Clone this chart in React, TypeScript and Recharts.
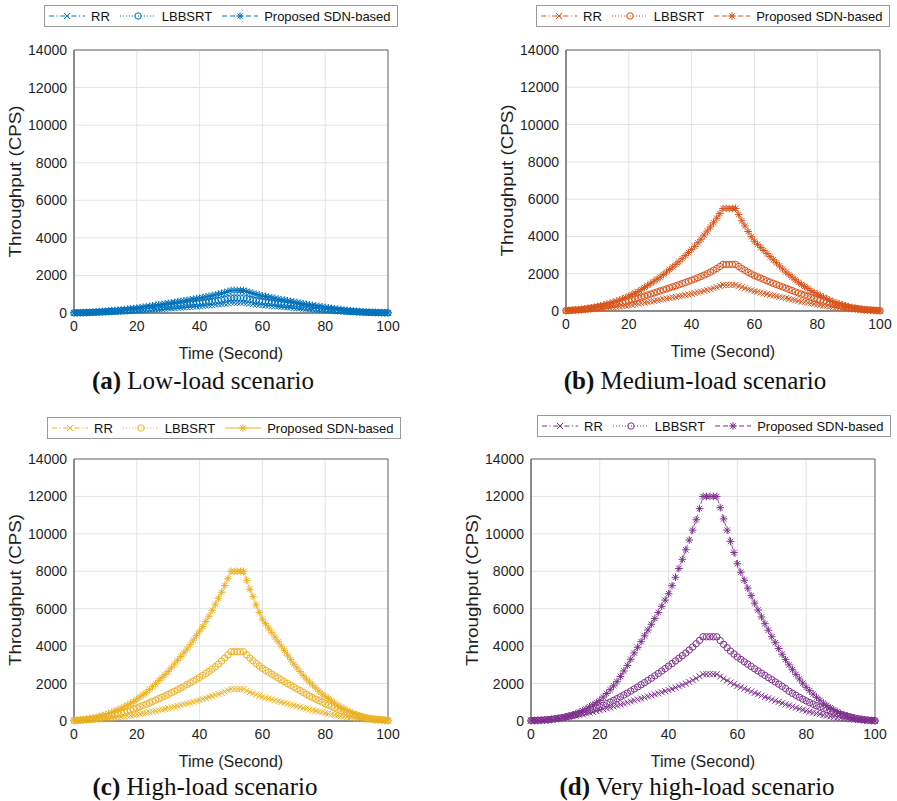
import React from 'react';
import { LineChart, Line, XAxis, YAxis, CartesianGrid, ReferenceArea, Label } from 'recharts';

// ---------- data ----------
const timeSec = [
  0, 1, 2, 3, 4, 5, 6, 7, 8, 9, 10, 11, 12, 13, 14, 15, 16, 17, 18, 19, 20,
  21, 22, 23, 24, 25, 26, 27, 28, 29, 30, 31, 32, 33, 34, 35, 36, 37, 38, 39, 40,
  41, 42, 43, 44, 45, 46, 47, 48, 49, 50, 51, 52, 53, 54, 55, 56, 57, 58, 59, 60,
  61, 62, 63, 64, 65, 66, 67, 68, 69, 70, 71, 72, 73, 74, 75, 76, 77, 78, 79, 80,
  81, 82, 83, 84, 85, 86, 87, 88, 89, 90, 91, 92, 93, 94, 95, 96, 97, 98, 99, 100,
];

const xTicks = [0, 20, 40, 60, 80, 100];
const yTicks = [0, 2000, 4000, 6000, 8000, 10000, 12000, 14000];
const seriesNames = ['RR', 'LBBSRT', 'Proposed SDN-based'];

// (a) Low-load
const lowRR = [
  6, 7, 9, 12, 14, 17, 21, 27, 33, 39,
  44, 50, 57, 63, 70, 77, 85, 94, 102, 112,
  121, 132, 143, 154, 165, 176, 188, 200, 212, 224,
  237, 249, 261, 273, 285, 297, 310, 323, 336, 349,
  363, 377, 392, 408, 424, 440, 460, 480, 502, 525,
  550, 550, 550, 550, 550,
  525, 501, 479, 457, 437, 418, 403, 387, 372, 356,
  341, 327, 312, 298, 284, 270, 255, 241, 227, 212,
  198, 186, 174, 162, 150, 138, 127, 116, 105, 94,
  83, 74, 66, 58, 50, 41, 36, 31, 26, 21,
  17, 14, 12, 10, 8, 6,
];
const lowLBB = [
  8, 10, 14, 17, 20, 24, 31, 39, 48, 56,
  64, 73, 82, 92, 102, 112, 124, 136, 149, 162,
  176, 192, 208, 224, 240, 256, 274, 291, 309, 326,
  344, 362, 379, 397, 414, 432, 450, 470, 489, 508,
  528, 549, 570, 593, 616, 640, 669, 698, 730, 764,
  800, 800, 800, 800, 800,
  764, 728, 696, 664, 636, 608, 586, 563, 541, 518,
  496, 475, 454, 434, 413, 392, 371, 350, 330, 309,
  288, 270, 253, 235, 218, 200, 184, 168, 152, 136,
  120, 108, 96, 84, 72, 60, 53, 46, 38, 31,
  24, 21, 18, 14, 11, 8,
];
const lowSDN = [
  12, 16, 20, 25, 30, 36, 47, 59, 72, 84,
  96, 109, 124, 138, 152, 168, 186, 204, 223, 244,
  264, 288, 312, 336, 360, 384, 410, 437, 463, 490,
  516, 542, 569, 595, 622, 648, 676, 704, 733, 762,
  792, 823, 856, 889, 924, 960, 1003, 1048, 1094, 1146,
  1200, 1200, 1200, 1200, 1200,
  1146, 1092, 1044, 996, 954, 912, 878, 845, 811, 778,
  744, 713, 682, 650, 619, 588, 557, 526, 494, 463,
  432, 406, 379, 353, 326, 300, 276, 252, 228, 204,
  180, 162, 144, 126, 108, 90, 79, 68, 58, 47,
  36, 31, 26, 22, 17, 12,
];

// (b) Medium-load
const medRR = [
  14, 18, 24, 29, 35, 42, 55, 69, 84, 98,
  112, 127, 144, 161, 178, 196, 217, 238, 260, 284,
  308, 336, 364, 392, 420, 448, 479, 510, 540, 571,
  602, 633, 664, 694, 725, 756, 788, 822, 855, 889,
  924, 960, 998, 1037, 1078, 1120, 1170, 1222, 1277, 1337,
  1400, 1400, 1400, 1400, 1400,
  1337, 1274, 1218, 1162, 1113, 1064, 1025, 986, 946, 907,
  868, 832, 795, 759, 722, 686, 650, 613, 577, 540,
  504, 473, 442, 412, 381, 350, 322, 294, 266, 238,
  210, 189, 168, 147, 126, 105, 92, 80, 67, 55,
  42, 36, 31, 25, 20, 14,
];
const medLBB = [
  25, 33, 43, 53, 63, 75, 98, 123, 150, 175,
  200, 228, 258, 288, 318, 350, 388, 425, 465, 508,
  550, 600, 650, 700, 750, 800, 855, 910, 965, 1020,
  1075, 1130, 1185, 1240, 1295, 1350, 1408, 1468, 1528, 1588,
  1650, 1715, 1783, 1853, 1925, 2000, 2090, 2183, 2280, 2388,
  2500, 2500, 2500, 2500, 2500,
  2388, 2275, 2175, 2075, 1988, 1900, 1830, 1760, 1690, 1620,
  1550, 1485, 1420, 1355, 1290, 1225, 1160, 1095, 1030, 965,
  900, 845, 790, 735, 680, 625, 575, 525, 475, 425,
  375, 338, 300, 263, 225, 188, 165, 143, 120, 98,
  75, 65, 55, 45, 35, 25,
];
const medSDN = [
  11, 22, 39, 55, 72, 94, 116, 143, 171, 204,
  237, 275, 319, 363, 413, 468, 523, 583, 649, 715,
  798, 880, 963, 1045, 1155, 1265, 1375, 1485, 1595, 1705,
  1815, 1953, 2090, 2228, 2365, 2503, 2640, 2805, 2970, 3135,
  3300, 3465, 3658, 3850, 4070, 4290, 4510, 4730, 4978, 5225,
  5500, 5500, 5500, 5500, 5500,
  5170, 4840, 4565, 4263, 3988, 3740, 3575, 3410, 3245, 3080,
  2915, 2750, 2585, 2420, 2255, 2090, 1953, 1815, 1678, 1540,
  1430, 1320, 1210, 1100, 990, 908, 825, 743, 660, 578,
  506, 440, 385, 330, 275, 231, 193, 154, 121, 94,
  72, 50, 33, 22, 11, 6,
];

// (c) High-load
const highRR = [
  17, 20, 25, 31, 38, 46, 57, 70, 85, 101,
  118, 136, 155, 175, 196, 218, 241, 266, 292, 319,
  347, 376, 406, 437, 469, 502, 536, 571, 607, 644,
  682, 721, 761, 802, 844, 887, 931, 976, 1022, 1069,
  1117, 1167, 1219, 1273, 1329, 1387, 1445, 1505, 1570, 1635,
  1700, 1700, 1700, 1700, 1700,
  1624, 1547, 1479, 1411, 1352, 1292, 1244, 1197, 1149, 1102,
  1054, 1010, 966, 921, 877, 833, 789, 745, 700, 656,
  612, 575, 537, 500, 462, 425, 391, 357, 323, 289,
  255, 230, 204, 179, 153, 128, 112, 97, 82, 66,
  51, 44, 37, 31, 24, 17,
];
const highLBB = [
  37, 42, 50, 60, 72, 86, 106, 130, 160, 193,
  230, 265, 303, 343, 380, 420, 470, 525, 580, 640,
  700, 765, 830, 898, 968, 1040, 1115, 1190, 1265, 1342,
  1420, 1502, 1586, 1672, 1760, 1850, 1943, 2038, 2135, 2232,
  2330, 2435, 2542, 2655, 2775, 2900, 3045, 3200, 3365, 3530,
  3700, 3700, 3700, 3700, 3700,
  3534, 3367, 3219, 3071, 2942, 2812, 2708, 2605, 2501, 2398,
  2294, 2198, 2102, 2005, 1909, 1813, 1717, 1621, 1524, 1428,
  1332, 1251, 1169, 1088, 1006, 925, 851, 777, 703, 629,
  555, 500, 444, 389, 333, 278, 244, 211, 178, 144,
  111, 96, 81, 67, 52, 37,
];
const highSDN = [
  16, 32, 56, 80, 104, 136, 168, 208, 248, 296,
  344, 400, 464, 528, 600, 680, 760, 848, 944, 1040,
  1160, 1280, 1400, 1520, 1680, 1840, 2000, 2160, 2320, 2480,
  2640, 2840, 3040, 3240, 3440, 3640, 3840, 4080, 4320, 4560,
  4800, 5040, 5320, 5600, 5920, 6240, 6560, 6880, 7240, 7600,
  8000, 8000, 8000, 8000, 8000,
  7520, 7040, 6640, 6200, 5800, 5440, 5200, 4960, 4720, 4480,
  4240, 4000, 3760, 3520, 3280, 3040, 2840, 2640, 2440, 2240,
  2080, 1920, 1760, 1600, 1440, 1320, 1200, 1080, 960, 840,
  736, 640, 560, 480, 400, 336, 280, 224, 176, 136,
  104, 72, 48, 32, 16, 8,
];

// (d) Very high-load
const veryRR = [
  25, 30, 38, 48, 60, 75, 95, 118, 142, 168,
  195, 225, 258, 292, 328, 365, 405, 447, 490, 535,
  580, 628, 676, 725, 775, 825, 878, 932, 987, 1042,
  1097, 1150, 1203, 1256, 1310, 1365, 1420, 1476, 1533, 1591,
  1650, 1715, 1783, 1853, 1925, 2000, 2090, 2183, 2280, 2388,
  2500, 2500, 2500, 2500, 2500,
  2380, 2265, 2160, 2060, 1965, 1875, 1800, 1725, 1650, 1575,
  1500, 1430, 1360, 1290, 1220, 1150, 1085, 1020, 955, 890,
  830, 770, 712, 655, 600, 548, 500, 452, 406, 362,
  320, 282, 246, 212, 180, 150, 124, 100, 80, 62,
  46, 34, 24, 16, 10, 5,
];
const veryLBB = [
  30, 35, 42, 50, 60, 75, 95, 120, 150, 180,
  215, 255, 295, 340, 390, 440, 495, 555, 620, 690,
  760, 840, 925, 1010, 1100, 1190, 1290, 1390, 1490, 1600,
  1710, 1820, 1935, 2050, 2170, 2290, 2415, 2540, 2670, 2800,
  2935, 3070, 3210, 3350, 3490, 3630, 3790, 3955, 4130, 4310,
  4500, 4500, 4500, 4500, 4500,
  4298, 4095, 3915, 3735, 3578, 3420, 3294, 3168, 3042, 2916,
  2790, 2673, 2556, 2439, 2322, 2205, 2088, 1971, 1854, 1737,
  1590, 1480, 1375, 1270, 1170, 1075, 985, 900, 818, 740,
  665, 595, 528, 465, 405, 348, 295, 247, 203, 163,
  128, 98, 72, 50, 32, 20,
];
const verySDN = [
  10, 15, 20, 30, 40, 55, 75, 100, 130, 165,
  200, 260, 320, 390, 470, 550, 650, 760, 870, 985,
  1100, 1280, 1470, 1670, 1880, 2100, 2380, 2670, 2970, 3300,
  3640, 3940, 4240, 4550, 4860, 5170, 5480, 5800, 6130, 6460,
  6800, 7230, 7680, 8150, 8640, 9150, 9670, 10200, 10750, 11350,
  12000, 12000, 12000, 12000, 12000,
  11400, 10800, 10200, 9600, 9000, 8400, 7950, 7520, 7100, 6700,
  6300, 5930, 5560, 5200, 4850, 4500, 4180, 3870, 3570, 3280,
  3000, 2740, 2490, 2250, 2020, 1800, 1620, 1440, 1270, 1110,
  950, 830, 710, 600, 500, 400, 330, 260, 200, 150,
  110, 80, 55, 35, 20, 10,
];

// ---------- styling ----------
const SANS = '"Liberation Sans", Arial, Helvetica, sans-serif';
const SERIF = '"Liberation Serif", "Times New Roman", serif';
const AXIS = '#6b6b6b';
const TEXT = '#1f1f1f';
const GRID = '#e4e4e4';

const RR_DASH = '5 2.5 1.2 2.5';
const LBB_DASH = '1 2';
const SDN_DASH = '5 3';

type MarkerKind = 'x' | 'o' | 'star';

function Marker({ kind, cx, cy, color }: { kind: MarkerKind; cx: number; cy: number; color: string }) {
  if (cx == null || cy == null || isNaN(cx) || isNaN(cy)) return <g />;
  const sw = 1;
  if (kind === 'o') {
    return <circle cx={cx} cy={cy} r={3.2} fill="none" stroke={color} strokeWidth={sw} />;
  }
  if (kind === 'x') {
    const s = 3;
    return (
      <g stroke={color} strokeWidth={sw}>
        <line x1={cx - s} y1={cy - s} x2={cx + s} y2={cy + s} />
        <line x1={cx - s} y1={cy + s} x2={cx + s} y2={cy - s} />
      </g>
    );
  }
  const s = 3.8;
  const d = 2.7;
  return (
    <g stroke={color} strokeWidth={sw}>
      <line x1={cx - s} y1={cy} x2={cx + s} y2={cy} />
      <line x1={cx} y1={cy - s} x2={cx} y2={cy + s} />
      <line x1={cx - d} y1={cy - d} x2={cx + d} y2={cy + d} />
      <line x1={cx - d} y1={cy + d} x2={cx + d} y2={cy - d} />
    </g>
  );
}

const makeDot = (kind: MarkerKind, color: string) => (p: any) => (
  <Marker key={`${kind}-${p.index}`} kind={kind} cx={p.cx} cy={p.cy} color={color} />
);

function LegendBox({ color, sdnDash, left, top }: { color: string; sdnDash: string; left: number; top: number }) {
  const items: { kind: MarkerKind; dash: string; name: string }[] = [
    { kind: 'x', dash: RR_DASH, name: seriesNames[0] },
    { kind: 'o', dash: LBB_DASH, name: seriesNames[1] },
    { kind: 'star', dash: sdnDash, name: seriesNames[2] },
  ];
  return (
    <div
      style={{
        position: 'absolute', left, top, height: 22, boxSizing: 'border-box',
        border: '1px solid #9a9a9a', background: '#fff', display: 'flex', alignItems: 'center',
        fontFamily: SANS, fontSize: 13, color: '#111', padding: '0 6px 0 3px', whiteSpace: 'nowrap',
      }}
    >
      {items.map((it, i) => (
        <React.Fragment key={it.name}>
          <svg width={38} height={14} style={{ display: 'block', marginLeft: i === 0 ? 0 : 9 }}>
            <line x1={1} y1={7} x2={37} y2={7} stroke={color} strokeWidth={1.1} strokeDasharray={it.dash} />
            <Marker kind={it.kind} cx={19} cy={7} color={color} />
          </svg>
          <span style={{ marginLeft: 5 }}>{it.name}</span>
        </React.Fragment>
      ))}
    </div>
  );
}

const YLabelContent = (props: any) => {
  const vb = props.viewBox || { x: 0, y: 0, width: 0, height: 0 };
  const x = vb.x + 1;
  const y = vb.y + vb.height / 2;
  return (
    <text
      x={x} y={y} transform={`rotate(-90, ${x}, ${y})`} textAnchor="middle" dominantBaseline="central"
      fontFamily={SANS} fontSize={16} fill={TEXT} textLength={152} lengthAdjust="spacingAndGlyphs"
    >
      Throughput (CPS)
    </text>
  );
};

type PanelCfg = {
  rr: number[]; lbb: number[]; sdn: number[];
  color: string; sdnDash: string;
  plotLeft: number; plotTop: number; plotW: number; plotH: number;
  legendLeft: number; legendTop: number;
  tag: string; caption: string; capX: number; capY: number;
};

const panels: PanelCfg[] = [
  { rr: lowRR, lbb: lowLBB, sdn: lowSDN, color: '#0072BD', sdnDash: SDN_DASH,
    plotLeft: 74, plotTop: 50, plotW: 314, plotH: 263, legendLeft: 44, legendTop: 5,
    tag: '(a)', caption: 'Low-load scenario', capX: 203, capY: 381 },
  { rr: medRR, lbb: medLBB, sdn: medSDN, color: '#D95319', sdnDash: SDN_DASH,
    plotLeft: 566, plotTop: 50, plotW: 314, plotH: 261, legendLeft: 536, legendTop: 5,
    tag: '(b)', caption: 'Medium-load scenario', capX: 695, capY: 381 },
  { rr: highRR, lbb: highLBB, sdn: highSDN, color: '#EDB120', sdnDash: '',
    plotLeft: 74, plotTop: 459, plotW: 314, plotH: 262, legendLeft: 47, legendTop: 417,
    tag: '(c)', caption: 'High-load scenario', capX: 205, capY: 787 },
  { rr: veryRR, lbb: veryLBB, sdn: verySDN, color: '#7E2F8E', sdnDash: SDN_DASH,
    plotLeft: 531, plotTop: 459, plotW: 344, plotH: 262, legendLeft: 537, legendTop: 415,
    tag: '(d)', caption: 'Very high-load scenario', capX: 697, capY: 787 },
];

function Panel({ cfg }: { cfg: PanelCfg }) {
  const rows = timeSec.map((t, i) => ({ t, rr: cfg.rr[i], lbb: cfg.lbb[i], sdn: cfg.sdn[i] }));
  const width = cfg.plotW + 90;
  const height = cfg.plotH + 60;
  const tickStyle = { fontFamily: SANS, fontSize: 14, fill: TEXT };
  return (
    <>
      <div style={{ position: 'absolute', left: cfg.plotLeft - 70, top: cfg.plotTop - 10 }}>
        <LineChart width={width} height={height} data={rows} margin={{ top: 10, right: 20, bottom: 4, left: 10 }}>
          <CartesianGrid stroke={GRID} strokeWidth={1} />
          <XAxis
            dataKey="t" type="number" domain={[0, 100]} ticks={xTicks} interval={0}
            height={46} tickSize={0} tickMargin={8} tick={tickStyle}
            axisLine={{ stroke: AXIS, strokeWidth: 1 }}
            label={{ value: 'Time (Second)', position: 'insideBottom', offset: 0, fontFamily: SANS, fontSize: 16, fill: TEXT }}
          />
          <YAxis
            type="number" domain={[0, 14000]} ticks={yTicks} interval={0} width={60}
            tickSize={0} tickMargin={7} tick={tickStyle}
            axisLine={{ stroke: AXIS, strokeWidth: 1 }}
            label={<Label content={YLabelContent} />}
          />
          <ReferenceArea x1={0} x2={100} y1={0} y2={14000} fill="none" stroke={AXIS} strokeWidth={1} ifOverflow="visible" />
          <Line dataKey="rr" stroke={cfg.color} strokeWidth={0.8} strokeDasharray={RR_DASH}
            dot={makeDot('x', cfg.color)} activeDot={false} isAnimationActive={false} />
          <Line dataKey="lbb" stroke={cfg.color} strokeWidth={0.8} strokeDasharray={LBB_DASH}
            dot={makeDot('o', cfg.color)} activeDot={false} isAnimationActive={false} />
          <Line dataKey="sdn" stroke={cfg.color} strokeWidth={0.8} strokeDasharray={cfg.sdnDash || undefined}
            dot={makeDot('star', cfg.color)} activeDot={false} isAnimationActive={false} />
        </LineChart>
      </div>
      <LegendBox color={cfg.color} sdnDash={cfg.sdnDash} left={cfg.legendLeft} top={cfg.legendTop} />
      <div
        style={{
          position: 'absolute', left: cfg.capX, top: cfg.capY - 15, transform: 'translateX(-50%)',
          fontFamily: SERIF, fontSize: 25, lineHeight: '30px', color: '#111', whiteSpace: 'nowrap',
        }}
      >
        <b>{cfg.tag}</b> {cfg.caption}
      </div>
    </>
  );
}

export default function App() {
  return (
    <div style={{ position: 'absolute', left: 0, top: 0, width: 897, height: 801, background: '#fff', overflow: 'hidden' }}>
      {panels.map((p) => (
        <Panel key={p.tag} cfg={p} />
      ))}
    </div>
  );
}
